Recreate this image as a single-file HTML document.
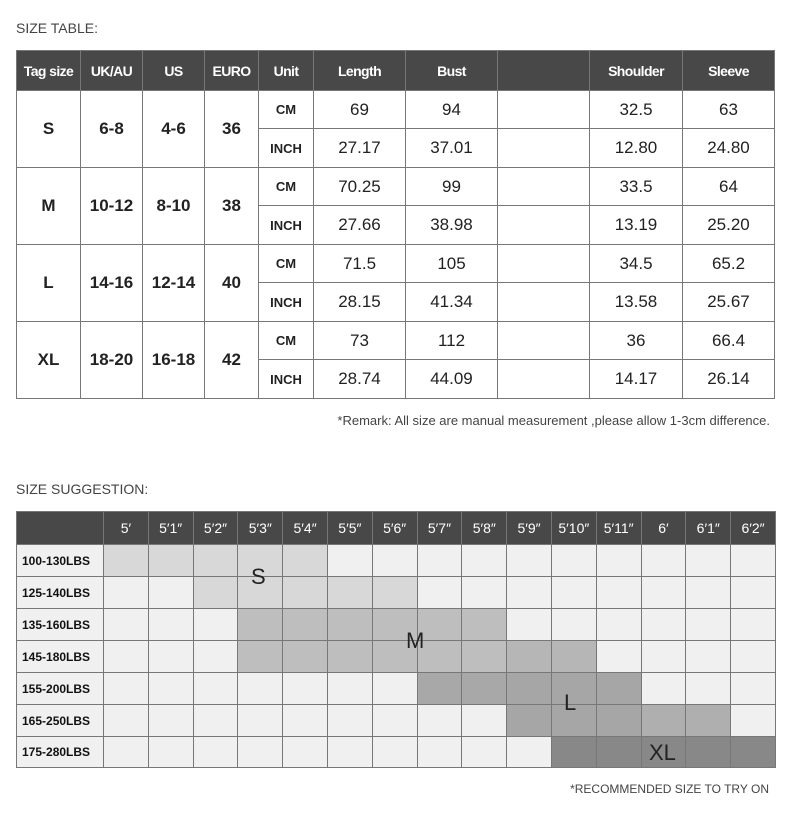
<!DOCTYPE html><html><head><style>
body{margin:0;width:790px;height:825px;background:#fff;font-family:"Liberation Sans",sans-serif;position:relative;overflow:hidden}
.t{position:absolute;color:#444;font-size:14px}
table{position:absolute;border-collapse:collapse;table-layout:fixed}
td{border:1px solid #777;text-align:center;padding:0;color:#222}
.h td{background:#484848;color:#fff;font-size:14px}
#a tr.h td{font-size:14px;letter-spacing:-0.6px;font-weight:bold}
#a td{font-size:17px}
#a td.b{font-weight:bold}
#a td.u{font-size:13px;font-weight:bold}
#b td{background:#f0f0f0;font-size:14px}
#b .h td{background:#484848;color:#fff}
#b td.l{font-size:12px;font-weight:bold;text-align:left;padding-left:5px;color:#111}
.s{background:#d8d8d8!important}.m{background:#bebebe!important}.m2{background:#b6b6b6!important}
.l2{background:#a6a6a6!important}.q{background:#a8a8a8!important}.q2{background:#afafaf!important}.x{background:#888!important}
.g{position:absolute;font-size:22px;color:#222}
</style></head><body>
<div class="t" style="left:16px;top:20px">SIZE TABLE:</div>
<table id="a" style="left:16px;top:50px;width:759px">
<colgroup><col style="width:64px"><col style="width:62px"><col style="width:62px"><col style="width:54px"><col style="width:55px"><col style="width:92px"><col style="width:92px"><col style="width:92px"><col style="width:93px"><col style="width:92px"></colgroup>
<tr class="h" style="height:40px"><td>Tag size</td><td>UK/AU</td><td>US</td><td>EURO</td><td>Unit</td><td>Length</td><td>Bust</td><td></td><td>Shoulder</td><td>Sleeve</td></tr>
<tr style="height:38px"><td rowspan=2 class=b>S</td><td rowspan=2 class=b>6-8</td><td rowspan=2 class=b>4-6</td><td rowspan=2 class=b>36</td><td class=u>CM</td><td>69</td><td>94</td><td></td><td>32.5</td><td>63</td></tr>
<tr style="height:39px"><td class=u>INCH</td><td>27.17</td><td>37.01</td><td></td><td>12.80</td><td>24.80</td></tr>
<tr style="height:38px"><td rowspan=2 class=b>M</td><td rowspan=2 class=b>10-12</td><td rowspan=2 class=b>8-10</td><td rowspan=2 class=b>38</td><td class=u>CM</td><td>70.25</td><td>99</td><td></td><td>33.5</td><td>64</td></tr>
<tr style="height:39px"><td class=u>INCH</td><td>27.66</td><td>38.98</td><td></td><td>13.19</td><td>25.20</td></tr>
<tr style="height:38px"><td rowspan=2 class=b>L</td><td rowspan=2 class=b>14-16</td><td rowspan=2 class=b>12-14</td><td rowspan=2 class=b>40</td><td class=u>CM</td><td>71.5</td><td>105</td><td></td><td>34.5</td><td>65.2</td></tr>
<tr style="height:39px"><td class=u>INCH</td><td>28.15</td><td>41.34</td><td></td><td>13.58</td><td>25.67</td></tr>
<tr style="height:38px"><td rowspan=2 class=b>XL</td><td rowspan=2 class=b>18-20</td><td rowspan=2 class=b>16-18</td><td rowspan=2 class=b>42</td><td class=u>CM</td><td>73</td><td>112</td><td></td><td>36</td><td>66.4</td></tr>
<tr style="height:39px"><td class=u>INCH</td><td>28.74</td><td>44.09</td><td></td><td>14.17</td><td>26.14</td></tr>
</table>
<div class="t" style="right:20px;top:413px;font-size:13px">*Remark: All size are manual measurement ,please allow 1-3cm difference.</div>
<div class="t" style="left:16px;top:481px">SIZE SUGGESTION:</div>
<table id="b" style="left:16px;top:511px;width:759px">
<colgroup><col style="width:87px"><col span=15 style="width:44.8px"></colgroup>
<tr class="h" style="height:33px"><td></td><td>5′</td><td>5′1″</td><td>5′2″</td><td>5′3″</td><td>5′4″</td><td>5′5″</td><td>5′6″</td><td>5′7″</td><td>5′8″</td><td>5′9″</td><td>5′10″</td><td>5′11″</td><td>6′</td><td>6′1″</td><td>6′2″</td></tr>
<tr style="height:32px"><td class=l>100-130LBS</td><td class=s></td><td class=s></td><td class=s></td><td class=s></td><td class=s></td><td></td><td></td><td></td><td></td><td></td><td></td><td></td><td></td><td></td><td></td></tr>
<tr style="height:32px"><td class=l>125-140LBS</td><td></td><td></td><td class=s></td><td class=s></td><td class=s></td><td class=s></td><td class=s></td><td></td><td></td><td></td><td></td><td></td><td></td><td></td><td></td></tr>
<tr style="height:32px"><td class=l>135-160LBS</td><td></td><td></td><td></td><td class=m></td><td class=m></td><td class=m></td><td class=m></td><td class=m></td><td class=m></td><td></td><td></td><td></td><td></td><td></td><td></td></tr>
<tr style="height:32px"><td class=l>145-180LBS</td><td></td><td></td><td></td><td class=m></td><td class=m></td><td class=m></td><td class=m></td><td class=m></td><td class=m></td><td class=m2></td><td class=m2></td><td></td><td></td><td></td><td></td></tr>
<tr style="height:32px"><td class=l>155-200LBS</td><td></td><td></td><td></td><td></td><td></td><td></td><td></td><td class=q></td><td class=q></td><td class=l2></td><td class=l2></td><td class=l2></td><td></td><td></td><td></td></tr>
<tr style="height:32px"><td class=l>165-250LBS</td><td></td><td></td><td></td><td></td><td></td><td></td><td></td><td></td><td></td><td class=l2></td><td class=l2></td><td class=l2></td><td class=q2></td><td class=q2></td><td></td></tr>
<tr style="height:31px"><td class=l>175-280LBS</td><td></td><td></td><td></td><td></td><td></td><td></td><td></td><td></td><td></td><td></td><td class=x></td><td class=x></td><td class=x></td><td class=x></td><td class=x></td></tr>
</table>
<div class="g" style="left:251px;top:564px">S</div>
<div class="g" style="left:406px;top:628px">M</div>
<div class="g" style="left:564px;top:690px">L</div>
<div class="g" style="left:649px;top:740px">XL</div>
<div class="t" style="right:21px;top:782px;font-size:12px">*RECOMMENDED SIZE TO TRY ON</div>
</body></html>
